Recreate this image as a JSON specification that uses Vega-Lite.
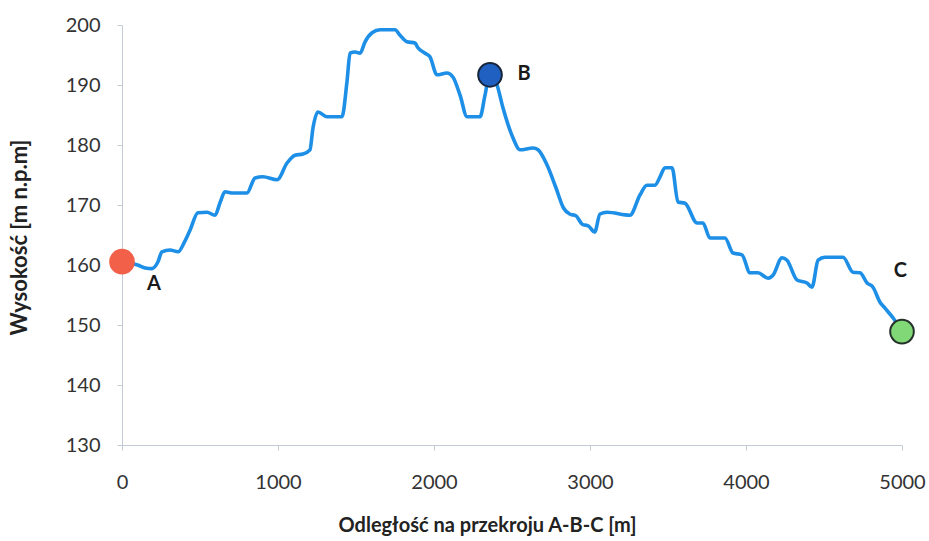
{
  "$schema": "https://vega.github.io/schema/vega-lite/v6.json",
  "width": 780,
  "height": 420,
  "autosize": {"type": "none"},
  "padding": {"left": 122, "top": 25, "right": 27, "bottom": 96},
  "background": "white",
  "config": {"view": {"stroke": null}, "font": "Lato"},
  "datasets": {
    "profile": [
      {"distance": 30, "elevation": 160.4},
      {"distance": 100, "elevation": 160.0},
      {"distance": 150, "elevation": 159.5},
      {"distance": 192, "elevation": 159.4},
      {"distance": 230, "elevation": 160.5},
      {"distance": 256, "elevation": 162.2},
      {"distance": 308, "elevation": 162.5},
      {"distance": 359, "elevation": 162.2},
      {"distance": 400, "elevation": 163.8},
      {"distance": 436, "elevation": 165.8},
      {"distance": 487, "elevation": 168.7},
      {"distance": 545, "elevation": 168.8},
      {"distance": 596, "elevation": 168.3},
      {"distance": 630, "elevation": 170.5},
      {"distance": 660, "elevation": 172.2},
      {"distance": 712, "elevation": 172.0},
      {"distance": 801, "elevation": 172.0},
      {"distance": 853, "elevation": 174.5},
      {"distance": 904, "elevation": 174.7},
      {"distance": 994, "elevation": 174.2},
      {"distance": 1058, "elevation": 177.0},
      {"distance": 1109, "elevation": 178.3},
      {"distance": 1160, "elevation": 178.5},
      {"distance": 1205, "elevation": 179.2},
      {"distance": 1224, "elevation": 182.8},
      {"distance": 1256, "elevation": 185.5},
      {"distance": 1314, "elevation": 184.7},
      {"distance": 1410, "elevation": 184.7},
      {"distance": 1442, "elevation": 190.5},
      {"distance": 1462, "elevation": 195.3},
      {"distance": 1494, "elevation": 195.5},
      {"distance": 1526, "elevation": 195.3},
      {"distance": 1558, "elevation": 197.2},
      {"distance": 1603, "elevation": 198.7},
      {"distance": 1654, "elevation": 199.2},
      {"distance": 1750, "elevation": 199.2},
      {"distance": 1782, "elevation": 198.3},
      {"distance": 1827, "elevation": 197.2},
      {"distance": 1878, "elevation": 197.0},
      {"distance": 1897, "elevation": 196.2},
      {"distance": 1942, "elevation": 195.3},
      {"distance": 1974, "elevation": 194.7},
      {"distance": 2019, "elevation": 191.7},
      {"distance": 2083, "elevation": 192.0},
      {"distance": 2122, "elevation": 191.3},
      {"distance": 2167, "elevation": 188.3},
      {"distance": 2212, "elevation": 184.7},
      {"distance": 2295, "elevation": 184.7},
      {"distance": 2327, "elevation": 188.3},
      {"distance": 2356, "elevation": 191.7},
      {"distance": 2404, "elevation": 190.0},
      {"distance": 2442, "elevation": 186.2},
      {"distance": 2506, "elevation": 181.2},
      {"distance": 2551, "elevation": 179.2},
      {"distance": 2635, "elevation": 179.5},
      {"distance": 2667, "elevation": 179.2},
      {"distance": 2724, "elevation": 176.7},
      {"distance": 2780, "elevation": 173.0},
      {"distance": 2830, "elevation": 169.5},
      {"distance": 2870, "elevation": 168.5},
      {"distance": 2910, "elevation": 168.2},
      {"distance": 2950, "elevation": 166.8},
      {"distance": 2990, "elevation": 166.5},
      {"distance": 3030, "elevation": 165.5},
      {"distance": 3064, "elevation": 168.5},
      {"distance": 3109, "elevation": 168.8},
      {"distance": 3256, "elevation": 168.3},
      {"distance": 3321, "elevation": 171.7},
      {"distance": 3365, "elevation": 173.3},
      {"distance": 3417, "elevation": 173.3},
      {"distance": 3449, "elevation": 174.7},
      {"distance": 3481, "elevation": 176.2},
      {"distance": 3526, "elevation": 176.2},
      {"distance": 3564, "elevation": 170.5},
      {"distance": 3609, "elevation": 170.3},
      {"distance": 3686, "elevation": 167.0},
      {"distance": 3724, "elevation": 167.0},
      {"distance": 3769, "elevation": 164.5},
      {"distance": 3865, "elevation": 164.5},
      {"distance": 3917, "elevation": 162.0},
      {"distance": 3974, "elevation": 161.7},
      {"distance": 4026, "elevation": 158.7},
      {"distance": 4077, "elevation": 158.7},
      {"distance": 4141, "elevation": 157.8},
      {"distance": 4173, "elevation": 158.3},
      {"distance": 4231, "elevation": 161.2},
      {"distance": 4263, "elevation": 160.8},
      {"distance": 4327, "elevation": 157.5},
      {"distance": 4391, "elevation": 157.0},
      {"distance": 4423, "elevation": 156.3},
      {"distance": 4462, "elevation": 160.8},
      {"distance": 4506, "elevation": 161.3},
      {"distance": 4622, "elevation": 161.3},
      {"distance": 4686, "elevation": 158.8},
      {"distance": 4731, "elevation": 158.7},
      {"distance": 4776, "elevation": 157.0},
      {"distance": 4814, "elevation": 156.3},
      {"distance": 4859, "elevation": 153.8},
      {"distance": 4891, "elevation": 152.8},
      {"distance": 4942, "elevation": 151.2},
      {"distance": 5000, "elevation": 148.9}
    ],
    "points": [
      {"name": "A", "distance": 0, "elevation": 160.55},
      {"name": "B", "distance": 2359, "elevation": 191.7},
      {"name": "C", "distance": 5000, "elevation": 148.9}
    ],
    "labels": [
      {"name": "A", "distance": 205, "elevation": 156.8},
      {"name": "B", "distance": 2577, "elevation": 191.8},
      {"name": "C", "distance": 4990, "elevation": 159.0}
    ]
  },
  "layer": [
    {
      "data": {"name": "profile"},
      "mark": {"type": "line", "color": "#1E8FE6", "strokeWidth": 3.6, "interpolate": "monotone"},
      "encoding": {
        "x": {
          "field": "distance", "type": "quantitative",
          "scale": {"domain": [0, 5000], "nice": false},
          "axis": {
            "values": [0, 1000, 2000, 3000, 4000, 5000],
            "format": "d",
            "grid": false,
            "domainColor": "#c3ccd6", "tickColor": "#c3ccd6", "tickSize": 5,
            "labelFontSize": 20, "labelFont": "Lato", "labelColor": "#333333",
            "labelPadding": 38, "labelBaseline": "alphabetic", "labelFlush": false,
            "title": "Odległość na przekroju A-B-C [m]",
            "titleFont": "Lato", "titleFontSize": 20, "titleFontWeight": "bold", "titleColor": "#222222",
            "titleX": 365, "titleY": 86, "titleBaseline": "alphabetic", "titleAlign": "center"
          }
        },
        "y": {
          "field": "elevation", "type": "quantitative",
          "scale": {"domain": [130, 200], "zero": false, "nice": false},
          "axis": {
            "values": [130, 140, 150, 160, 170, 180, 190, 200],
            "format": "d",
            "grid": false,
            "domainColor": "#c3ccd6", "tickColor": "#c3ccd6", "tickSize": 5,
            "labelFontSize": 20, "labelFont": "Lato", "labelColor": "#333333",
            "labelPadding": 17,
            "title": "Wysokość [m n.p.m]",
            "titleFont": "Lato", "titleFontSize": 22, "titleFontWeight": "bold", "titleColor": "#222222",
            "titleX": -96, "titleY": 212, "titleAngle": 270, "titleBaseline": "alphabetic", "titleAlign": "center"
          }
        }
      }
    },
    {
      "data": {"name": "points"},
      "mark": {"type": "circle", "size": 560, "opacity": 1, "strokeWidth": 2},
      "encoding": {
        "x": {"field": "distance", "type": "quantitative"},
        "y": {"field": "elevation", "type": "quantitative"},
        "color": {"field": "name", "type": "nominal", "scale": {"domain": ["A", "B", "C"], "range": ["#F2604A", "#1F60C0", "#80D877"]}, "legend": null},
        "stroke": {"field": "name", "type": "nominal", "scale": {"domain": ["A", "B", "C"], "range": ["#F2604A", "#18253A", "#26302A"]}, "legend": null}
      }
    },
    {
      "data": {"name": "labels"},
      "mark": {"type": "text", "font": "Lato", "fontSize": 20, "fontWeight": "bold", "color": "#1a1a1a", "align": "center", "baseline": "middle"},
      "encoding": {
        "x": {"field": "distance", "type": "quantitative"},
        "y": {"field": "elevation", "type": "quantitative"},
        "text": {"field": "name", "type": "nominal"}
      }
    }
  ]
}
